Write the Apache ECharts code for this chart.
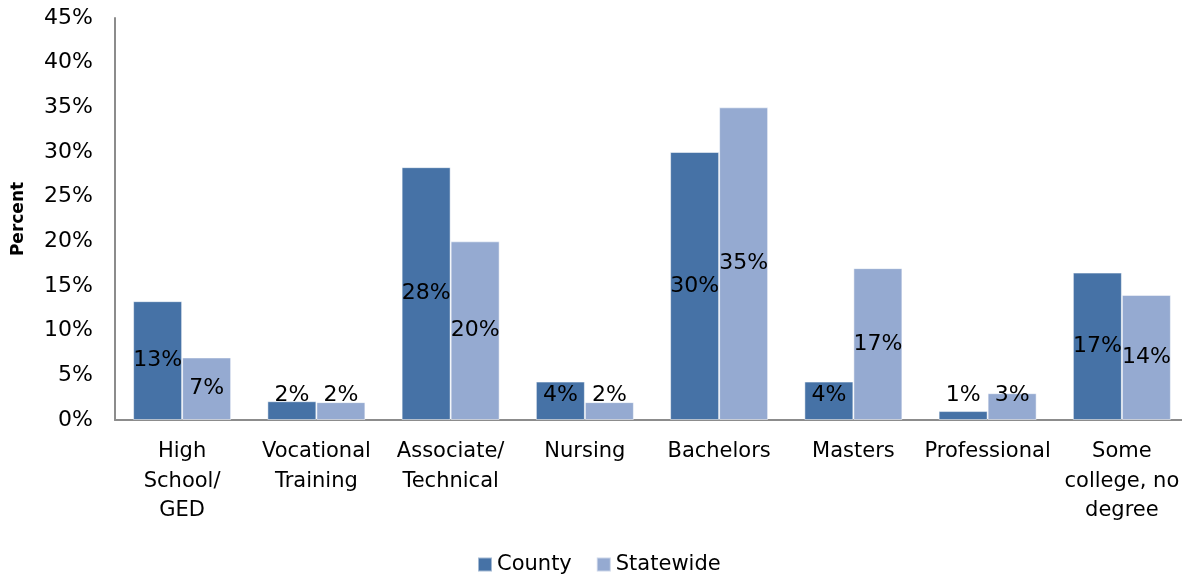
<!DOCTYPE html>
<html>
<head>
<meta charset="utf-8">
<script src="https://cdn.jsdelivr.net/npm/echarts@6/dist/echarts.min.js"></script>
<style>html,body{margin:0;padding:0;background:#fff}#c{width:1182px;height:575px}</style>
</head>
<body>
<div id="c"></div>
<script>
const categories = ["High\nSchool/\nGED", "Vocational\nTraining", "Associate/\nTechnical", "Nursing", "Bachelors", "Masters", "Professional", "Some\ncollege, no\ndegree"];
const county = [13.3, 2.1, 28.3, 4.3, 30.0, 4.3, 1.0, 16.5];
const statewide = [7.0, 2.0, 20.0, 2.0, 35.0, 17.0, 3.0, 14.0];
const seriesNames = ["County", "Statewide"];
const yTicks = [0, 45, 5];

const FONT = "DejaVu Sans";
const chart = echarts.init(document.getElementById('c'));
function labelLayout(p) {
  const cy = p.rect.y + p.rect.height / 2;
  const bottom = p.rect.y + p.rect.height;
  return {
    x: p.rect.x + p.rect.width / 2,
    y: Math.min(cy, bottom - 25),
    align: 'center',
    verticalAlign: 'middle'
  };
}
const common = {
  type: 'bar',
  barGap: '0%',
  barCategoryGap: '27%',
  label: {
    show: true, position: 'inside', color: '#000', fontFamily: FONT, fontSize: 22,
    formatter: p => Math.round(p.value) + '%'
  },
  labelLayout: labelLayout
};
chart.setOption({
  animation: false,
  textStyle: { fontFamily: FONT },
  grid: { left: 115, right: -7, top: 18, bottom: 155, containLabel: false, outerBoundsMode: 'none' },
  legend: {
    top: 549, left: 472, itemWidth: 14, itemHeight: 14, itemGap: 24,
    icon: 'rect',
    textStyle: { fontFamily: FONT, fontSize: 21, color: '#000' },
    data: seriesNames
  },
  xAxis: {
    type: 'category', data: categories,
    axisLine: { lineStyle: { color: '#8c8c8c', width: 2 } },
    axisTick: { show: false },
    axisLabel: { interval: 0, color: '#000', fontFamily: FONT, fontSize: 21, lineHeight: 29.5, margin: 17 }
  },
  yAxis: {
    type: 'value', min: yTicks[0], max: yTicks[1], interval: yTicks[2],
    name: 'Percent', nameLocation: 'middle', nameGap: 88,
    nameTextStyle: { fontFamily: FONT, fontSize: 17, fontWeight: 'bold', color: '#000' },
    axisLine: { show: true, lineStyle: { color: '#8c8c8c', width: 2 } },
    axisTick: { show: false },
    splitLine: { show: false },
    axisLabel: { color: '#000', fontFamily: FONT, fontSize: 22, margin: 22, formatter: v => v + '%' }
  },
  series: [
    Object.assign({}, common, { name: seriesNames[0], data: county,
      itemStyle: { color: '#4672A6', borderColor: 'rgba(255,255,255,0.5)', borderWidth: 1 } }),
    Object.assign({}, common, { name: seriesNames[1], data: statewide,
      itemStyle: { color: '#95AAD1', borderColor: 'rgba(255,255,255,0.5)', borderWidth: 1 } })
  ]
});
</script>
</body>
</html>
